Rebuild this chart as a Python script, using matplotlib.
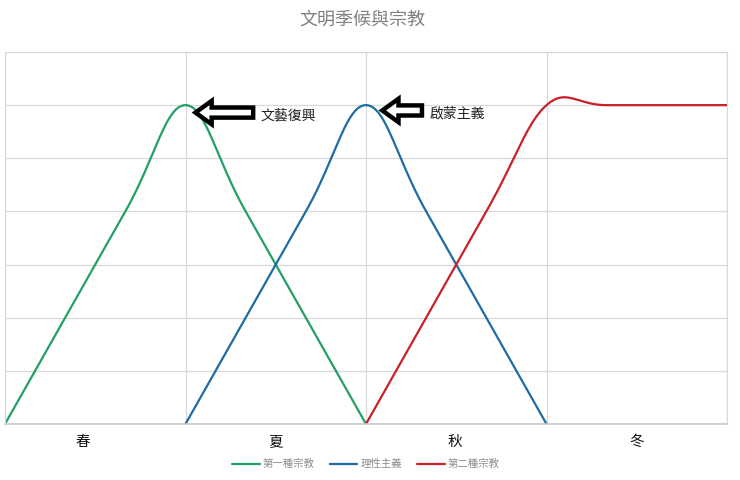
import numpy as np
import matplotlib
matplotlib.use('Agg')
import matplotlib.pyplot as plt
from matplotlib.patches import FancyArrow

plt.rcParams['font.family'] = ['Noto Sans CJK TC', 'DejaVu Sans']

title = '文明季候與宗教'
seasons = ['春', '夏', '秋', '冬']
season_pos = [0.43, 1.5, 2.49, 3.5]

# x in units of one season, y on a 0..7 scale
green_x = [0, 2 / 3, 1, 4 / 3, 2]
green_y = [0, 4, 6, 4, 0]
blue_x = [1, 5 / 3, 2, 7 / 3, 3]
blue_y = [0, 4, 6, 4, 0]
red_x = [2, 8 / 3, 3, 10 / 3, 4]
red_y = [0, 4, 6, 6, 6]

names = ['第一種宗教', '理性主義', '第二種宗教']
colors = ['#22a067', '#1d6ca6', '#c9202a']

notes = ['文藝復興', '啟蒙主義']
note_x = [1.055, 2.09]
note_len = [0.32, 0.22]
note_y = [5.86, 5.9]


def smooth(xs, ys, n=40):
    """Excel style smoothing: bezier with catmull-rom control points"""
    pts = np.column_stack([xs, ys]).astype(float)
    out = []
    for i in range(len(pts) - 1):
        p0 = pts[i - 1] if i > 0 else pts[i]
        p1 = pts[i]
        p2 = pts[i + 1]
        p3 = pts[i + 2] if i + 2 < len(pts) else pts[i + 1]
        c1 = p1 + (p2 - p0) / 6
        c2 = p2 - (p3 - p1) / 6
        t = np.linspace(0, 1, n)[:, None]
        seg = ((1 - t) ** 3 * p1 + 3 * (1 - t) ** 2 * t * c1
               + 3 * (1 - t) * t ** 2 * c2 + t ** 3 * p2)
        out.append(seg if i == 0 else seg[1:])
    out = np.vstack(out)
    return out[:, 0], out[:, 1]


fig = plt.figure(figsize=(7.4, 4.8), dpi=100)
ax = fig.add_axes([5 / 740, 56 / 480, 722 / 740, 372 / 480])

for xs, ys, name, c in zip([green_x, blue_x, red_x], [green_y, blue_y, red_y], names, colors):
    sx, sy = smooth(xs, ys)
    ax.plot(sx, sy, color=c, lw=1.6, label=name, solid_capstyle='round')

ax.set_xlim(0, 4)
ax.set_ylim(0, 7)
ax.set_xticks([0, 1, 2, 3, 4])
ax.set_yticks(range(8))
ax.grid(True, color='#d9d9d9', lw=0.9)
ax.set_axisbelow(True)
ax.tick_params(length=0, labelleft=False, labelbottom=False)
for s in ['top', 'left', 'right']:
    ax.spines[s].set_color('#d9d9d9')
ax.spines['bottom'].set_color('#c8c8c8')
ax.spines['bottom'].set_linewidth(1.2)

for p, s in zip(season_pos, seasons):
    ax.text(p, -0.34, s, ha='center', va='center', fontsize=10.5, color='#111111')

# hollow block arrows pointing at the peaks
for nx, ny, ln, txt in zip(note_x, note_y, note_len, notes):
    ax.add_patch(FancyArrow(nx + ln, ny, -ln, 0, width=0.19, head_width=0.44,
                            head_length=0.09, length_includes_head=True,
                            facecolor='white', edgecolor='black', lw=3.2,
                            joinstyle='miter', zorder=5))
    ax.text(nx + ln + 0.04, ny - 0.06, txt, ha='left', va='center', fontsize=10, color='#222222')

fig.text(362 / 740, 1 - 20 / 480, title, ha='center', va='center', fontsize=13, color='#808080')

leg = ax.legend(loc='center', bbox_to_anchor=(0.5, -0.108), ncol=3, frameon=False,
                fontsize=7.5, handlelength=2.6, handletextpad=0.3, columnspacing=1.5)
for t in leg.get_texts():
    t.set_color('#8c8c8c')

fig.savefig('out.png', dpi=100)
